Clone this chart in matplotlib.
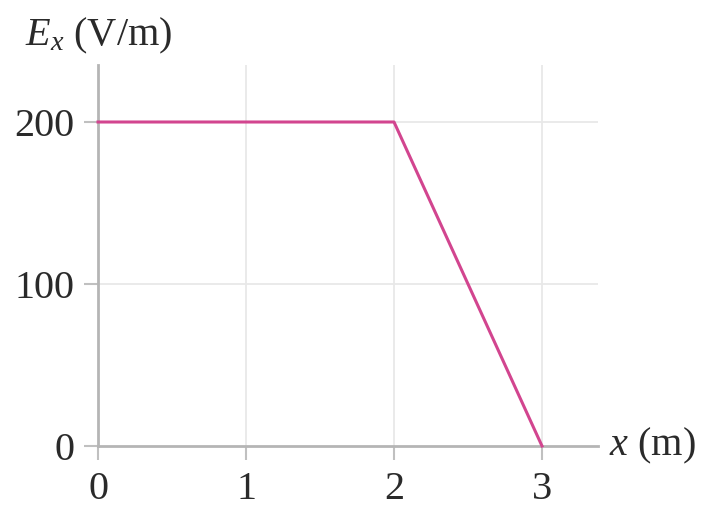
import matplotlib
matplotlib.use("Agg")
import matplotlib.pyplot as plt

x_vals = [0, 2, 3]
ex_vals = [200, 200, 0]
x_ticks = [0, 1, 2, 3]
y_ticks = [0, 100, 200]

plt.rcParams['font.family'] = ['Liberation Serif', 'DejaVu Serif']
plt.rcParams['mathtext.fontset'] = 'custom'
plt.rcParams['mathtext.rm'] = 'Liberation Serif'
plt.rcParams['mathtext.it'] = 'Liberation Serif:italic'

fig = plt.figure(figsize=(7.02, 5.12), dpi=100)
ax = fig.add_axes([98/702, 66/512, 500/702, 381/512])
ax.set_xlim(0, 500/148)
ax.set_ylim(0, 381/1.62)

for xv in [1, 2, 3]:
    ax.axvline(xv, color='#e8e8e8', lw=1.3, zorder=0)
for yv in [100, 200]:
    ax.axhline(yv, color='#e8e8e8', lw=1.3, zorder=0)

ax.plot(x_vals, ex_vals, color='#d2458f', lw=2.2, zorder=3, clip_on=False)

for s in ['top', 'right']:
    ax.spines[s].set_visible(False)
for s in ['left', 'bottom']:
    ax.spines[s].set_color('#b5b5b5')
    ax.spines[s].set_linewidth(2)

ax.set_xticks(x_ticks)
ax.set_yticks(y_ticks)
ax.tick_params(axis='both', direction='out', length=10, width=1.5, color='#c0c0c0',
               labelsize=29, labelcolor='#2a2a2a')
ax.tick_params(axis='x', pad=8)
ax.tick_params(axis='y', pad=7)

fig.text(25/702, 1 - 36/512, r'$E_x$ (V/m)', fontsize=29, color='#2a2a2a', va='center', ha='left')
fig.text(609/702, 1 - 446/512, r'$x$ (m)', fontsize=29, color='#2a2a2a', va='center', ha='left')

fig.savefig('out.png', dpi=100)
